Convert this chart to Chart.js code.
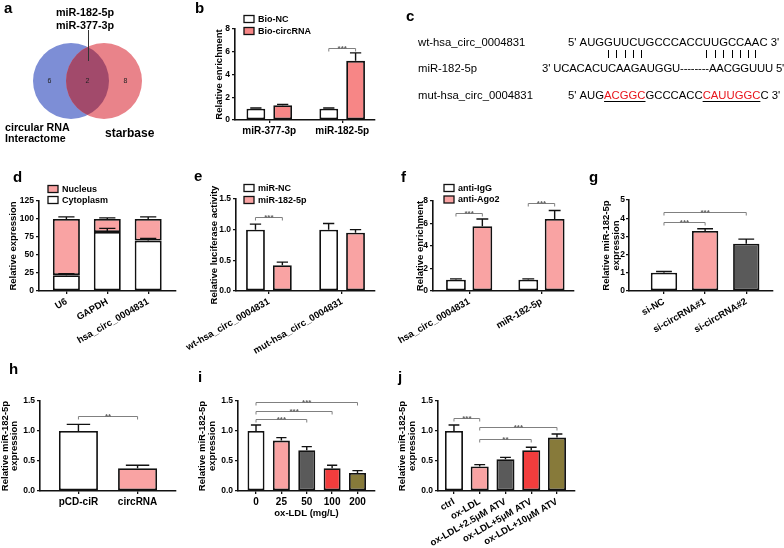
<!DOCTYPE html>
<html>
<head>
<meta charset="utf-8">
<title>circ_0004831 / miR-182-5p</title>
<script src="https://cdn.jsdelivr.net/npm/chart.js@4.4.1/dist/chart.umd.min.js"></script>
<style>
  html, body { margin: 0; padding: 0; background: #fff; }
  #fig { position: relative; width: 784px; height: 548px; overflow: hidden;
         font-family: "Liberation Sans", Arial, sans-serif; color: #000; font-kerning: none; }
  #fig canvas { position: absolute; left: 0; top: 0; }
  .t { position: absolute; white-space: nowrap; }
  .mut { color: #e8141b; text-decoration: underline; text-decoration-color: #000;
         text-decoration-thickness: 1.3px; text-underline-offset: 2px; }
  .pipe { position: absolute; width: 1px; height: 8px; background: #000; }
</style>
</head>
<body>
<div id="fig"></div>
<script>
// a: venn
const vennSets = ['circular RNA', 'starbase'];
const vennCounts = [6, 2, 8];
const vennShared = ['miR-182-5p', 'miR-377-3p'];

// c: binding sites
const wtSeq = 'AUGGUUCUGCCCACCUUGCCAAC';
const mutSeq = 'AUGACGGCGCCCACCCAUUGGCC';
const mirSeq = 'UCACACUCAAGAUGGU--------AACGGUUU';
const pairMask = '00011111000000011111110';

// b: RNA pull-down
const bCats = ['miR-377-3p', 'miR-182-5p'];
const bNC = [1.0, 1.0], bNCErr = [0.05, 0.06];
const bCirc = [1.3, 5.2], bCircErr = [0.07, 0.7];
const bSig = [{a: [0, 1], b: [1, 1], y: 6.3, t: '***'}];

// d: nuclear / cytoplasmic fractions
const dCats = ['U6', 'GAPDH', 'hsa_circ_0004831'];
const dCyto = [22, 82, 70], dCytoErr = [2, 5, 3];
const dNuc = [78, 18, 30], dNucErr = [3, 1.5, 3];

// e: luciferase
const eCats = ['wt-hsa_circ_0004831', 'mut-hsa_circ_0004831'];
const eNC = [1.0, 1.0], eNCErr = [0.09, 0.1];
const eMiR = [0.42, 0.95], eMiRErr = [0.05, 0.05];
const eSig = [{a: [0, 0], b: [1, 0], y: 1.2, t: '***'}];

// f: RIP
const fCats = ['hsa_circ_0004831', 'miR-182-5p'];
const fIgG = [1.0, 1.0], fIgGErr = [0.08, 0.08];
const fAgo = [5.75, 6.4], fAgoErr = [0.65, 0.75];
const fSig = [{a: [0, 0], b: [1, 0], y: 6.9, t: '***'}, {a: [0, 1], b: [1, 1], y: 7.8, t: '***'}];

// g: knockdown
const gCats = ['si-NC', 'si-circRNA#1', 'si-circRNA#2'];
const gVals = [1.0, 3.3, 2.6], gErr = [0.07, 0.12, 0.25];
const gSig = [{a: [0, 0], b: [0, 1], y: 3.8, t: '***'}, {a: [0, 0], b: [0, 2], y: 4.35, t: '***'}];

// h: overexpression
const hCats = ['pCD-ciR', 'circRNA'];
const hVals = [1.0, 0.38], hErr = [0.11, 0.05];
const hSig = [{a: [0, 0], b: [0, 1], y: 1.25, t: '**'}];

// i: ox-LDL dose
const iCats = ['0', '25', '50', '100', '200'];
const iVals = [1.0, 0.84, 0.68, 0.38, 0.30], iErr = [0.1, 0.05, 0.06, 0.05, 0.04];
const iSig = [{a: [0, 0], b: [0, 2], y: 1.2, t: '***'}, {a: [0, 0], b: [0, 3], y: 1.33, t: '***'}, {a: [0, 0], b: [0, 4], y: 1.48, t: '***'}];

// j: atorvastatin
const jCats = ['ctrl', 'ox-LDL', 'ox-LDL+2.5μM ATV', 'ox-LDL+5μM ATV', 'ox-LDL+10μM ATV'];
const jVals = [1.0, 0.41, 0.53, 0.68, 0.89], jErr = [0.1, 0.03, 0.03, 0.05, 0.06];
const jSig = [{a: [0, 0], b: [0, 1], y: 1.22, t: '***'}, {a: [0, 1], b: [0, 4], y: 1.07, t: '***'}, {a: [0, 1], b: [0, 3], y: 0.87, t: '**'}];

const W = 784, H = 600;   // canvases run a bit past the 548px figure so rotated labels fit
const FONT = '"Liberation Sans", Arial, sans-serif';
const PINK = '#f9a3a3', PINK2 = '#f78686', GREY = '#5a5a5a', RED = '#f23d3d', OLIVE = '#877a3a';
const MIR_TITLE = ['Relative miR-182-5p', 'expression'];

Chart.defaults.font.family = FONT;
Chart.defaults.color = '#000';

const fig = document.getElementById('fig');

function makeCanvas() {
  const c = document.createElement('canvas');
  c.width = W;
  c.height = H;
  fig.appendChild(c);
  return c;
}

function txt(x, base, html, size, weight, extra) {
  const d = document.createElement('div');
  d.className = 't';
  d.style.left = x + 'px';
  d.style.top = (base - 0.8465 * size) + 'px';
  d.style.fontSize = size + 'px';
  d.style.lineHeight = size + 'px';
  d.style.fontWeight = weight || 'normal';
  if (extra) Object.assign(d.style, extra);
  d.innerHTML = html;
  fig.appendChild(d);
  return d;
}

// mean + SD, upper whisker only
const errBars = {
  id: 'errBars',
  afterDatasetsDraw(chart) {
    const ctx = chart.ctx, y = chart.scales.y;
    ctx.save();
    ctx.strokeStyle = '#111';
    ctx.lineWidth = 1.4;
    chart.data.datasets.forEach((ds, di) => {
      if (!ds.err) return;
      chart.getDatasetMeta(di).data.forEach((el, i) => {
        const h = y.getPixelForValue(0) - y.getPixelForValue(ds.err[i]);
        const top = el.y - h, cap = el.width * 0.3;
        ctx.beginPath();
        ctx.moveTo(el.x, el.y);
        ctx.lineTo(el.x, top);
        ctx.moveTo(el.x - cap, top);
        ctx.lineTo(el.x + cap, top);
        ctx.stroke();
      });
    });
    ctx.restore();
  }
};

const sigBrackets = {
  id: 'sig',
  afterDatasetsDraw(chart, args, opts) {
    if (!opts.items || !opts.items.length) return;
    const ctx = chart.ctx, y = chart.scales.y;
    ctx.save();
    ctx.strokeStyle = '#808080';
    ctx.fillStyle = '#606060';
    ctx.lineWidth = 1;
    ctx.font = 'bold 8px ' + FONT;
    ctx.textAlign = 'center';
    ctx.textBaseline = 'alphabetic';
    opts.items.forEach(s => {
      const a = chart.getDatasetMeta(s.a[0]).data[s.a[1]];
      const b = chart.getDatasetMeta(s.b[0]).data[s.b[1]];
      const py = Math.round(y.getPixelForValue(s.y)) + 0.5;
      ctx.beginPath();
      ctx.moveTo(a.x, py + 3);
      ctx.lineTo(a.x, py);
      ctx.lineTo(b.x, py);
      ctx.lineTo(b.x, py + 3);
      ctx.stroke();
      ctx.fillText(s.t, (a.x + b.x) / 2, py + 2);
    });
    ctx.restore();
  }
};

const miniLegend = {
  id: 'miniLegend',
  afterDraw(chart, args, o) {
    if (!o.rows) return;
    const ctx = chart.ctx, ds = chart.data.datasets;
    ctx.save();
    ctx.font = 'bold 9px ' + FONT;
    ctx.textBaseline = 'middle';
    ctx.lineWidth = 1.3;
    ctx.strokeStyle = '#111';
    o.rows.forEach((di, k) => {
      const y = o.y + k * o.gap;
      ctx.fillStyle = ds[di].backgroundColor;
      ctx.fillRect(o.x, y - 3.5, 10, 7);
      ctx.strokeRect(o.x, y - 3.5, 10, 7);
      ctx.fillStyle = '#000';
      ctx.fillText(ds[di].label, o.x + 14, y + 0.5);
    });
    ctx.restore();
  }
};

function barPanel(p) {
  const [l, t, r, b] = p.area;
  const yw = Math.min(40, l), xh = 70;
  const tf = {size: 9.5, weight: 'bold', lineHeight: Array.isArray(p.yTitle) ? 1.0 : 1.1};
  const xf = {size: 9.5, weight: 'bold', lineHeight: 1.1};
  const lh = tf.size * tf.lineHeight;
  return new Chart(makeCanvas(), {
    type: 'bar',
    data: {
      datasets: p.sets.map(s => ({
        label: s.label,
        data: s.vals.map((v, i) => ({x: i, y: v})),
        err: s.err,
        backgroundColor: s.color,
        borderColor: '#111',
        borderWidth: 1.8,
        borderSkipped: false,
        categoryPercentage: p.cat,
        barPercentage: p.bar
      }))
    },
    options: {
      responsive: false,
      animation: false,
      events: [],
      layout: {padding: {left: l - yw, top: t, right: W - r, bottom: H - b - xh}},
      scales: {
        x: {
          type: 'linear', min: p.xr[0], max: p.xr[1], offset: false, stacked: !!p.stacked,
          grid: {offset: false, drawOnChartArea: false, tickLength: 3, color: '#111', lineWidth: 1.3},
          border: {color: '#111', width: 1.6},
          ticks: {
            stepSize: 1, includeBounds: false, autoSkip: false, padding: 2,
            minRotation: p.rot || 0, maxRotation: p.rot || 0,
            font: {size: p.rot ? 9.5 : 10, weight: 'bold'},
            callback: v => p.cats[v]
          },
          title: {
            display: !!p.xTitle, text: p.xTitle || '', font: xf,
            padding: {top: 0, bottom: p.xTitle ? (b + xh) - p.xTitleY - xf.size * xf.lineHeight / 2 : 0}
          },
          afterBuildTicks: s => {
            s.ticks = s.ticks.filter(k => Number.isInteger(k.value) && k.value >= 0 && k.value < p.cats.length);
          },
          afterFit: s => { s.height = xh; s.paddingLeft = 0; s.paddingRight = 0; }
        },
        y: {
          min: 0, max: p.yMax, stacked: !!p.stacked,
          grid: {drawOnChartArea: false, tickLength: 3, color: '#111', lineWidth: 1.3},
          border: {color: '#111', width: 1.6},
          ticks: {stepSize: p.yStep, padding: p.tickPad || 2, font: {size: 8.5, weight: 'bold'}, callback: p.fmt || (v => v)},
          title: {
            display: true, text: p.yTitle, font: tf,
            padding: {top: Math.max(0, p.titleX - (l - yw) - lh / 2), bottom: 0}
          },
          afterFit: s => { s.width = yw; s.paddingTop = 0; s.paddingBottom = 0; }
        }
      },
      plugins: {
        legend: {display: false},
        tooltip: {enabled: false},
        sig: {items: p.sig || []},
        miniLegend: p.legend || {rows: null}
      }
    },
    plugins: [errBars, sigBrackets, miniLegend]
  });
}

const oneDec = v => v.toFixed(1);

// ---- a: venn ----
const vennColors = ['#7d8ed6', '#e9838a'];
const venn = {
  id: 'venn',
  afterDatasetsDraw(chart) {
    const ctx = chart.ctx;
    const pts = chart.getDatasetMeta(0).data;
    const r = pts[0].options.radius, cy = pts[0].y;
    // shared region: second set clipped to the first
    ctx.save();
    ctx.beginPath();
    ctx.arc(pts[0].x, pts[0].y, r, 0, Math.PI * 2);
    ctx.clip();
    ctx.beginPath();
    ctx.arc(pts[1].x, pts[1].y, r, 0, Math.PI * 2);
    ctx.fillStyle = '#a24a6b';
    ctx.fill();
    ctx.restore();

    const L = pts[0].x - r, A = pts[1].x - r, B = pts[0].x + r, R = pts[1].x + r;
    const xs = [(L + A) / 2, (A + B) / 2, (B + R) / 2];
    ctx.save();
    ctx.fillStyle = '#222';
    ctx.font = '7px ' + FONT;
    ctx.textAlign = 'center';
    ctx.textBaseline = 'middle';
    vennCounts.forEach((c, i) => ctx.fillText(String(c), xs[i], cy));
    ctx.strokeStyle = '#333';
    ctx.lineWidth = 1;
    ctx.beginPath();
    ctx.moveTo(Math.round(xs[1]) + 0.5, cy - r - 13);
    ctx.lineTo(Math.round(xs[1]) + 0.5, cy - 20);
    ctx.stroke();
    ctx.restore();
  }
};

new Chart(makeCanvas(), {
  type: 'bubble',
  data: {
    datasets: [{
      data: vennSets.map((s, i) => ({x: i, y: 0})),
      backgroundColor: vennColors,
      borderWidth: 0,
      radius: 38,
      clip: false
    }]
  },
  options: {
    responsive: false, animation: false, events: [],
    layout: {padding: {left: 32, top: 43, right: W - 137, bottom: H - 119}},
    scales: {x: {display: false, min: -1, max: 2}, y: {display: false, min: -1, max: 1}},
    plugins: {legend: {display: false}, tooltip: {enabled: false}}
  },
  plugins: [venn]
});

txt(85, 16, vennShared[0], 10.8, 'bold', {transform: 'translateX(-50%)'});
txt(85, 29, vennShared[1], 10.8, 'bold', {transform: 'translateX(-50%)'});
txt(5, 131, vennSets[0], 10.7, 'bold');
txt(5, 142, 'Interactome', 10.7, 'bold');
txt(105, 137, vennSets[1], 12, 'bold');

// ---- b ----
barPanel({
  area: [235, 29, 375, 120], xr: [-0.47, 1.45], yMax: 8, yStep: 2,
  yTitle: 'Relative enrichment', titleX: 219.7, cats: bCats, cat: 0.735, bar: 0.7,
  sets: [
    {label: 'Bio-NC', vals: bNC, err: bNCErr, color: '#fff'},
    {label: 'Bio-circRNA', vals: bCirc, err: bCircErr, color: PINK2}
  ],
  sig: bSig, legend: {x: 244, y: 19, gap: 12, rows: [0, 1]}
});

// ---- c ----
const cFs = 11.3;
txt(418, 47, 'wt-hsa_circ_0004831', cFs);
txt(418, 73, 'miR-182-5p', cFs);
txt(418, 100, 'mut-hsa_circ_0004831', cFs);
const s1 = txt(568, 47, "5' " + wtSeq.split('').map(ch => '<span>' + ch + '</span>').join('') + " 3'", cFs);
txt(542, 73, "3' " + mirSeq + " 5'", cFs, 'normal', {letterSpacing: '-0.15px'});
let mutHtml = '';
mutSeq.split('').forEach((ch, i) => {
  const m = pairMask[i] === '1';
  if (m && (i === 0 || pairMask[i - 1] !== '1')) mutHtml += '<span class="mut">';
  mutHtml += ch;
  if (m && (i === mutSeq.length - 1 || pairMask[i + 1] !== '1')) mutHtml += '</span>';
});
txt(568, 100, "5' " + mutHtml + " 3'", cFs);
s1.querySelectorAll('span').forEach((sp, i) => {
  if (pairMask[i] !== '1') return;
  const rc = sp.getBoundingClientRect();
  const d = document.createElement('div');
  d.className = 'pipe';
  d.style.left = Math.round(rc.left + rc.width / 2 - 0.5) + 'px';
  d.style.top = '50px';
  fig.appendChild(d);
});

// ---- d ----
barPanel({
  area: [39, 201, 176, 291], xr: [-0.67, 2.68], yMax: 125, yStep: 25,
  yTitle: 'Relative expression', titleX: 13.3, cats: dCats, cat: 1, bar: 0.66,
  stacked: true, rot: 30,
  sets: [
    {label: 'Cytoplasm', vals: dCyto, err: dCytoErr, color: '#fff'},
    {label: 'Nucleus', vals: dNuc, err: dNucErr, color: PINK}
  ],
  legend: {x: 48, y: 189, gap: 11, rows: [1, 0]}
});

// ---- e ----
barPanel({
  area: [236, 199, 375, 291], xr: [-0.45, 1.45], yMax: 1.5, yStep: 0.5, fmt: oneDec,
  yTitle: 'Relative luciferase activity', titleX: 214, cats: eCats, cat: 0.735, bar: 0.7, rot: 30,
  sets: [
    {label: 'miR-NC', vals: eNC, err: eNCErr, color: '#fff'},
    {label: 'miR-182-5p', vals: eMiR, err: eMiRErr, color: PINK}
  ],
  sig: eSig, legend: {x: 244, y: 188, gap: 12, rows: [0, 1]}
});

// ---- f ----
barPanel({
  area: [433, 201, 574, 291], xr: [-0.5, 1.45], yMax: 8, yStep: 2,
  yTitle: 'Relative enrichment', titleX: 420, cats: fCats, cat: 0.73, bar: 0.75, rot: 30,
  sets: [
    {label: 'anti-IgG', vals: fIgG, err: fIgGErr, color: '#fff'},
    {label: 'anti-Ago2', vals: fAgo, err: fAgoErr, color: PINK}
  ],
  sig: fSig, legend: {x: 444, y: 188, gap: 11.5, rows: [0, 1]}
});

// ---- g ----
barPanel({
  area: [629, 200, 773, 291], xr: [-0.85, 2.65], yMax: 5, yStep: 1, tickPad: 1,
  yTitle: MIR_TITLE, titleX: 606.5, cats: gCats, cat: 1, bar: 0.64, rot: 30,
  sets: [{label: 'g', vals: gVals, err: gErr, color: ['#fff', PINK, GREY]}],
  sig: gSig
});

// ---- h ----
barPanel({
  area: [40, 401, 176, 491], xr: [-0.65, 1.65], yMax: 1.5, yStep: 0.5, fmt: oneDec,
  yTitle: MIR_TITLE, titleX: 5, cats: hCats, cat: 1, bar: 0.66,
  sets: [{label: 'h', vals: hVals, err: hErr, color: ['#fff', PINK]}],
  sig: hSig
});

// ---- i ----
barPanel({
  area: [238, 401, 375, 491], xr: [-0.71, 4.69], yMax: 1.5, yStep: 0.5, fmt: oneDec,
  yTitle: MIR_TITLE, titleX: 201.5, cats: iCats, cat: 1, bar: 0.67,
  xTitle: 'ox-LDL (mg/L)', xTitleY: 513,
  sets: [{label: 'i', vals: iVals, err: iErr, color: ['#fff', PINK, GREY, RED, OLIVE]}],
  sig: iSig
});

// ---- j ----
barPanel({
  area: [438, 401, 575, 491], xr: [-0.62, 4.7], yMax: 1.5, yStep: 0.5, fmt: oneDec,
  yTitle: MIR_TITLE, titleX: 401, cats: jCats, cat: 1, bar: 0.7, rot: 30,
  sets: [{label: 'j', vals: jVals, err: jErr, color: ['#fff', PINK, GREY, RED, OLIVE]}],
  sig: jSig
});

// panel letters
[['a', 4, 13], ['b', 195, 13], ['c', 406, 21], ['d', 13, 182], ['e', 194, 181],
 ['f', 401, 182], ['g', 589, 182], ['h', 9, 374], ['i', 198, 382], ['j', 398, 382]]
  .forEach(([k, x, y]) => txt(x, y, k, 15, 'bold'));
</script>
</body>
</html>
